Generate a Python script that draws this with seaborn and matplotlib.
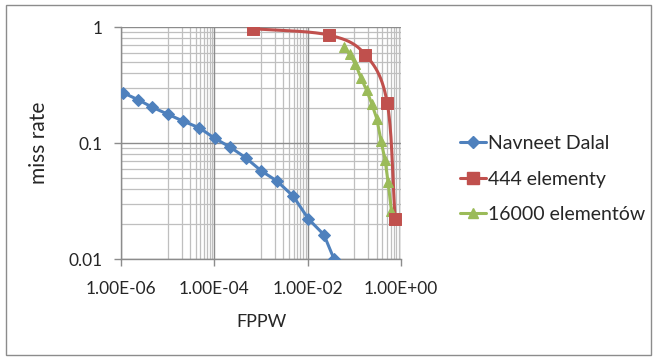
import numpy as np
import pandas as pd
import matplotlib
matplotlib.use("Agg")
import matplotlib.pyplot as plt
from matplotlib.lines import Line2D
from matplotlib.patches import Rectangle
import seaborn as sns

# ---- data ----
dalal_fppw = [1.13e-6, 2.33e-6, 4.6e-6, 1.01e-5, 2.09e-5, 4.8e-5, 1.01e-4, 2.2e-4,
              4.66e-4, 1.02e-3, 2.2e-3, 4.93e-3, 1.04e-2, 2.23e-2, 3.67e-2]
dalal_miss = [0.27, 0.236, 0.204, 0.177, 0.155, 0.135, 0.110, 0.092,
              0.0748, 0.0574, 0.047, 0.0347, 0.0221, 0.0162, 0.0100]

e444_fppw = [6.76e-4, 0.028, 0.173, 0.507, 0.75]
e444_miss = [0.968, 0.853, 0.577, 0.221, 0.0221]

e16k_fppw = [0.0603, 0.0789, 0.105, 0.138, 0.184, 0.236, 0.303, 0.372, 0.457, 0.528, 0.624]
e16k_miss = [0.672, 0.581, 0.483, 0.366, 0.284, 0.218, 0.162, 0.105, 0.071, 0.046, 0.026]

series_names = ["Navneet Dalal", "444 elementy", "16000 elementów"]
colors = ["#4F81BD", "#C0504D", "#9BBB59"]
x_ticks = [1e-6, 1e-4, 1e-2, 1e0]
x_tick_labels = ["1.00E-06", "1.00E-04", "1.00E-02", "1.00E+00"]
y_ticks = [0.01, 0.1, 1]
y_tick_labels = ["0.01", "0.1", "1"]

sns.set_theme(style="white")
plt.rcParams["font.family"] = ["Lato", "DejaVu Sans"]

fig = plt.figure(figsize=(6.56, 3.58), dpi=100)
ax = fig.add_axes([121/656, 1-259/358, 280/656, 232/358])
ax.set_xscale("log")
ax.set_yscale("log")
ax.set_xlim(1e-6, 1)
ax.set_ylim(0.01, 1)

# grid lines
minor_x = [k * 10.0**e for e in (-5, -3, -1) for k in range(1, 10)]
minor_y = [k * 10.0**e for e in (-2, -1) for k in range(2, 10)]
for v in minor_x:
    ax.axvline(v, color="#BFBFBF", lw=0.9, zorder=0)
for v in minor_y:
    ax.axhline(v, color="#BFBFBF", lw=0.9, zorder=0)
for v in x_ticks:
    ax.axvline(v, color="#8C8C8C", lw=1.0, zorder=0)
for v in y_ticks:
    ax.axhline(v, color="#8C8C8C", lw=1.0, zorder=0)

# Dalal
df_d = pd.DataFrame({"fppw": dalal_fppw, "miss": dalal_miss})
sns.lineplot(data=df_d, x="fppw", y="miss", ax=ax, color=colors[0], lw=2.2,
             marker="D", markersize=6.5, markeredgecolor=colors[0], sort=False, zorder=3)

# 444 elementy: smooth curve (Catmull-Rom in log space)
lx = np.log10(e444_fppw)
ly = np.log10(e444_miss) * 2.49
P = np.column_stack([lx, ly])
P = np.vstack([2*P[0]-P[1], P, 2*P[-1]-P[-2]])
curve = []
for i in range(1, len(P)-2):
    p0, p1, p2, p3 = P[i-1], P[i], P[i+1], P[i+2]
    t = np.linspace(0, 1, 40)[:, None]
    seg = 0.5*((2*p1) + (-p0+p2)*t + (2*p0-5*p1+4*p2-p3)*t**2 + (-p0+3*p1-3*p2+p3)*t**3)
    curve.append(seg)
curve = np.vstack(curve)
df_r_curve = pd.DataFrame({"fppw": 10**curve[:, 0], "miss": 10**(curve[:, 1]/2.49)})
sns.lineplot(data=df_r_curve, x="fppw", y="miss", ax=ax, color=colors[1], lw=2.2,
             sort=False, zorder=3)
df_r = pd.DataFrame({"fppw": e444_fppw, "miss": e444_miss})
sns.scatterplot(data=df_r, x="fppw", y="miss", ax=ax, color=colors[1], marker="s",
                s=75, edgecolor=colors[1], zorder=4)

# 16000 elementow
df_g = pd.DataFrame({"fppw": e16k_fppw, "miss": e16k_miss})
sns.lineplot(data=df_g, x="fppw", y="miss", ax=ax, color=colors[2], lw=2.2,
             marker="^", markersize=7, markeredgecolor=colors[2], sort=False, zorder=3)

ax.set_xticks(x_ticks)
ax.set_xticklabels(x_tick_labels, fontsize=12.5)
ax.set_yticks(y_ticks)
ax.set_yticklabels(y_tick_labels, fontsize=12.5)
ax.minorticks_off()
ax.tick_params(axis="both", which="major", length=5, width=1, color="#8C8C8C",
               direction="out", pad=8, bottom=True, left=True)
ax.tick_params(axis="x", pad=11)
for s in ["top", "right"]:
    ax.spines[s].set_visible(False)
for s in ["left", "bottom"]:
    ax.spines[s].set_color("#8C8C8C")
    ax.spines[s].set_linewidth(1)
ax.set_xlabel("FPPW", fontsize=13, labelpad=12)
ax.set_ylabel("miss rate", fontsize=15, labelpad=14)

handles = [
    Line2D([], [], color=colors[0], lw=2.2, marker="D", markersize=6.5),
    Line2D([], [], color=colors[1], lw=2.2, marker="s", markersize=8),
    Line2D([], [], color=colors[2], lw=2.2, marker="^", markersize=7),
]
fig.legend(handles, series_names, loc="center left", bbox_to_anchor=(460/656, 1-179/358),
           frameon=False, fontsize=14, handlelength=1.35, handletextpad=0.1,
           labelspacing=0.95, borderaxespad=0, borderpad=0)

fig.patches.append(Rectangle((6/656, 3/358), 645/656, 350/358, transform=fig.transFigure,
                             fill=False, edgecolor="#8C8C8C", lw=1))

fig.savefig("out.png", dpi=100)
